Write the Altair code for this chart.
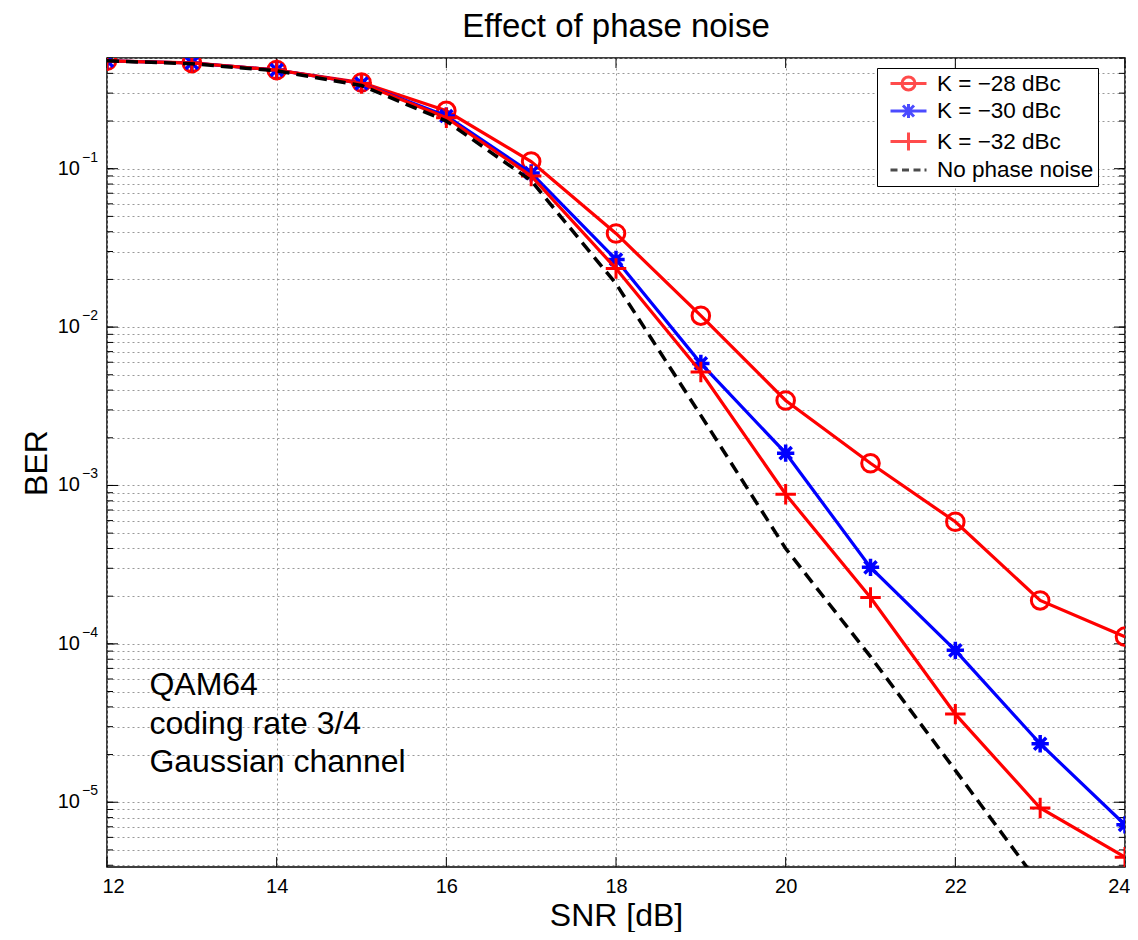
import altair as alt
import pandas as pd

# ---------------- data ----------------
SNR = [12, 13, 14, 15, 16, 17, 18, 19, 20, 21, 22, 23, 24]
BER_K28 = [0.48, 0.466, 0.42, 0.35, 0.232, 0.111, 0.039, 0.0118, 0.00344, 0.00138, 5.9e-4, 1.88e-4, 1.11e-4]
BER_K30 = [0.48, 0.465, 0.42, 0.345, 0.215, 0.094, 0.0267, 0.0059, 0.0016, 3.04e-4, 9.1e-5, 2.34e-5, 7.2e-6]
BER_K32 = [0.48, 0.465, 0.42, 0.345, 0.21, 0.09, 0.0234, 0.0052, 8.8e-4, 1.96e-4, 3.6e-5, 9.2e-6, 4.5e-6]
SNR_NONOISE = [12, 13, 14, 15, 16, 17, 18, 19, 20, 21, 22, 23]
BER_NONOISE = [0.48, 0.46, 0.415, 0.335, 0.2, 0.084, 0.0188, 0.00277, 4.0e-4, 8.3e-5, 1.59e-5, 3.0e-6]

SERIES = ["K = \u221228 dBc", "K = \u221230 dBc", "K = \u221232 dBc", "No phase noise"]
COLORS = ["#ff0000", "#0000ff", "#ff0000", "#000000"]

X_TICKS = [12, 14, 16, 18, 20, 22, 24]
DECADES = [1e-1, 1e-2, 1e-3, 1e-4, 1e-5]
EXPONENTS = ["\u22121", "\u22122", "\u22123", "\u22124", "\u22125"]
Y_DOMAIN = [3.9e-6, 0.5]
X_DOMAIN = [12, 24]

ANN_X = [12.5]
ANN_Y = [6.8e-5]
ANN_TEXT = ["QAM64\ncoding rate 3/4\nGaussian channel"]

TITLE = "Effect of phase noise"
X_TITLE = "SNR [dB]"
Y_TITLE = "BER"

# ---------------- helpers ----------------
F = "Liberation Sans"
W, H = 1018, 809

grid_vals = []
for k in range(-6, 0):
    for m in range(1, 10):
        v = m * 10.0 ** k
        if Y_DOMAIN[0] <= v <= Y_DOMAIN[1] * 1.0001:
            grid_vals.append(float("%.3g" % v))

def frame(xs, ys, name):
    return pd.DataFrame({"snr": xs, "ber": ys, "series": name})

df28 = frame(SNR, BER_K28, SERIES[0])
df30 = frame(SNR, BER_K30, SERIES[1])
df32 = frame(SNR, BER_K32, SERIES[2])
df00 = frame(SNR_NONOISE, BER_NONOISE, SERIES[3])
df_all = pd.concat([df28, df30, df32, df00], ignore_index=True)

xscale = alt.Scale(domain=X_DOMAIN, nice=False, zero=False)
yscale = alt.Scale(type="log", domain=Y_DOMAIN, nice=False)

# identical axis definitions are given to every layer so they merge cleanly
xaxis = alt.Axis(
    values=X_TICKS, labelFont=F, labelFontSize=20, labelColor="black",
    labelPadding=9, labelFlush=True, labelFlushOffset=5, ticks=False, domain=False,
    grid=True, gridColor="#999999", gridDash=[2, 3], gridWidth=1,
    title=X_TITLE, titleFont=F, titleFontSize=32, titleFontWeight="normal",
    titleColor="black", titleY=58, titleBaseline="alphabetic",
)
yaxis = alt.Axis(
    values=grid_vals, labels=False, ticks=False, domain=False,
    grid=True, gridColor="#999999", gridDash=[2, 3], gridWidth=1,
    title=Y_TITLE, titleFont=F, titleFontSize=32, titleFontWeight="normal",
    titleColor="black", titleX=-61, titleY=H / 2, titleBaseline="alphabetic",
    titleAlign="center",
)

def xenc(field="snr"):
    return alt.X(field + ":Q", scale=xscale, axis=xaxis)

def yenc(field="ber"):
    return alt.Y(field + ":Q", scale=yscale, axis=yaxis)

ASTER = "M-1,0L1,0M0,-1L0,1M-0.7,-0.7L0.7,0.7M-0.7,0.7L0.7,-0.7"
PLUS = "M-1,0L1,0M0,-1L0,1"

line28 = alt.Chart(df28).mark_line(color=COLORS[0], strokeWidth=3.2, clip=True).encode(x=xenc(), y=yenc())
pts28 = alt.Chart(df28).mark_point(shape="circle", filled=False, color=COLORS[0], size=310,
                                    strokeWidth=3, opacity=1, clip=True).encode(x=xenc(), y=yenc())
line30 = alt.Chart(df30).mark_line(color=COLORS[1], strokeWidth=3.2, clip=True).encode(x=xenc(), y=yenc())
pts30 = alt.Chart(df30).mark_point(shape=ASTER, filled=False, color=COLORS[1], size=300,
                                    strokeWidth=3.5, opacity=1, clip=True).encode(x=xenc(), y=yenc())
line32 = alt.Chart(df32).mark_line(color=COLORS[2], strokeWidth=3.2, clip=True).encode(x=xenc(), y=yenc())
pts32 = alt.Chart(df32).mark_point(shape=PLUS, filled=False, color=COLORS[2], size=420,
                                    strokeWidth=3, opacity=1, clip=True).encode(x=xenc(), y=yenc())
line00 = alt.Chart(df00).mark_line(color=COLORS[3], strokeWidth=3.5, strokeDash=[12, 7],
                                   strokeCap="butt", clip=True).encode(x=xenc(), y=yenc())

# legend (symbols: line segment + marker)
LEG_PATHS = [
    "M-1.8,0L1.8,0M0.65,0A0.65,0.65 0 1,1 -0.65,0A0.65,0.65 0 1,1 0.65,0",
    "M-1.8,0L1.8,0M0,-0.7L0,0.7M-0.55,-0.55L0.55,0.55M-0.55,0.55L0.55,-0.55",
    "M-1.8,0L1.8,0M0,-0.9L0,0.9",
    "M-1.8,0L-1.1,0M-0.65,0L0.05,0M0.5,0L1.2,0M1.6,0L1.8,0",
]
leg = alt.Legend(
    title=None, orient="none", legendX=770, legendY=10,
    fillColor="white", strokeColor="black", padding=4, cornerRadius=0,
    symbolSize=400, symbolStrokeWidth=3, symbolFillColor="transparent",
    symbolOffset=16, labelOffset=17, rowPadding=1.5,
    labelFont=F, labelFontSize=22.5, labelColor="black", labelLimit=400,
)
legend_layer = alt.Chart(df_all).transform_filter("datum.snr < 0").mark_point(filled=False).encode(
    x=xenc(), y=yenc(),
    color=alt.Color("series:N", scale=alt.Scale(domain=SERIES, range=COLORS), legend=leg),
    shape=alt.Shape("series:N", scale=alt.Scale(domain=SERIES, range=LEG_PATHS), legend=leg),
)

# inner tick marks
minor_df = pd.DataFrame({"v": grid_vals})
dec_df = pd.DataFrame({"v": DECADES, "exp": EXPONENTS})
xt_df = pd.DataFrame({"v": X_TICKS})
tick_l = alt.Chart(minor_df).mark_rule(color="black", strokeWidth=1).encode(y=yenc("v"), x=alt.value(0), x2=alt.value(6))
tick_r = alt.Chart(minor_df).mark_rule(color="black", strokeWidth=1).encode(y=yenc("v"), x=alt.value(W - 6), x2=alt.value(W))
tick_ld = alt.Chart(dec_df).mark_rule(color="black", strokeWidth=1).encode(y=yenc("v"), x=alt.value(0), x2=alt.value(11))
tick_rd = alt.Chart(dec_df).mark_rule(color="black", strokeWidth=1).encode(y=yenc("v"), x=alt.value(W - 11), x2=alt.value(W))
tick_b = alt.Chart(xt_df).mark_rule(color="black", strokeWidth=1).encode(x=xenc("v"), y=alt.value(H - 10), y2=alt.value(H))
tick_t = alt.Chart(xt_df).mark_rule(color="black", strokeWidth=1).encode(x=xenc("v"), y=alt.value(0), y2=alt.value(10))

# y decade labels 10^k
lab10 = alt.Chart(dec_df).mark_text(align="right", baseline="middle", font=F, fontSize=20,
                                    color="black").encode(y=yenc("v"), x=alt.value(-27), text=alt.value("10"))
labexp = alt.Chart(dec_df).mark_text(align="left", baseline="middle", font=F, fontSize=14,
                                     color="black", dy=-11).encode(y=yenc("v"), x=alt.value(-25), text="exp:N")

# annotation
ann_df = pd.DataFrame({"snr": ANN_X, "ber": ANN_Y, "txt": ANN_TEXT})
ann = alt.Chart(ann_df).mark_text(align="left", baseline="top", font=F, fontSize=32, color="black",
                                  lineBreak="\n", lineHeight=38.5).encode(x=xenc(), y=yenc(), text="txt:N")

chart = alt.layer(
    line28, tick_l, tick_r, tick_ld, tick_rd, tick_b, tick_t,
    ann,
    pts28, line30, pts30, line32, pts32, line00,
    legend_layer, lab10, labexp,
).properties(
    width=W, height=H,
    title=alt.Title(TITLE, font=F, fontSize=33, fontWeight="normal", color="black",
                    anchor="middle", frame="group", offset=14),
    autosize=alt.AutoSizeParams(type="none"),
    padding={"left": 99, "top": 50, "right": 5, "bottom": 65},
).configure_view(stroke="black", strokeWidth=1.5)

chart.save("out.html", embed_options={"renderer": "svg", "actions": False})
